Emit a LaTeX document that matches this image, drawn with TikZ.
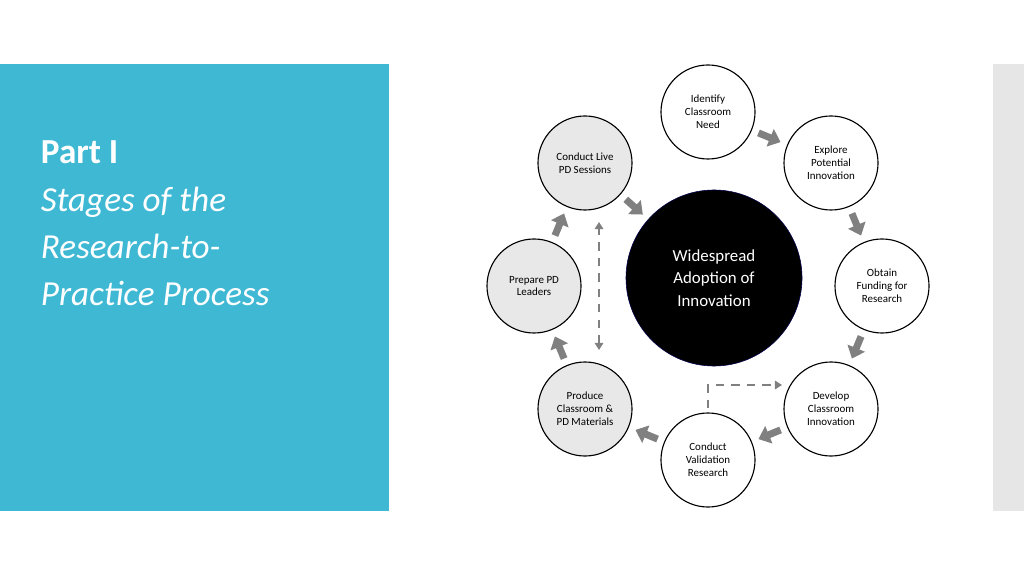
\documentclass[tikz,border=0pt]{standalone}
\usepackage{fontspec}
\setmainfont{Carlito}
\usetikzlibrary{arrows.meta}
\definecolor{panelblue}{HTML}{3FB8D4}
\definecolor{stripgray}{HTML}{E6E6E6}
\definecolor{stagegray}{HTML}{E8E8E8}
\definecolor{arrowgray}{HTML}{808080}
\tikzset{
  stage/.style={circle, draw=black, thick, fill=white, minimum size=2.35cm,
    inner sep=0pt, align=center, font=\fontsize{7.8}{9.2}\selectfont},
  pdstage/.style={stage, fill=stagegray},
  blockarrow/.style={draw=arrowgray, line width=5pt, shorten <=5pt, shorten >=5pt,
    -{Triangle[length=8pt, width=13pt]}},
  dasharrow/.style={draw=arrowgray, line width=1.6pt, dash pattern=on 6pt off 5pt,
    -{Triangle[length=5pt, width=6pt]}}
}
\begin{document}
\begin{tikzpicture}[x=0.025cm, y=-0.025cm]
  \useasboundingbox (0,0) rectangle (1024,576);

  % Background panels
  \fill[panelblue] (0,64) rectangle (389,511);
  \fill[stripgray] (993,64) rectangle (1024,511);

  % Title text
  \node[anchor=west, text=white, font=\fontsize{25}{30}\selectfont\bfseries] (title) at (36,152) {Part I};
  \node[anchor=north west, text=white, align=left, font=\fontsize{25}{33.5}\selectfont\itshape] (subtitle) at (36,182)
    {Stages of the\\Research-to-\\Practice Process};

  % Centre
  \node[circle, draw=black!70!blue, fill=black, minimum size=4.4cm, text=white, align=center,
    font=\fontsize{12}{16}\selectfont] (adoption) at (714,278) {Widespread\\Adoption of\\Innovation};

  % Stages
  \node[stage] (identify) at (708,112) {Identify\\Classroom\\Need};
  \node[stage] (explore) at (831,163) {Explore\\Potential\\Innovation};
  \node[stage] (obtain) at (882,286) {Obtain\\Funding for\\Research};
  \node[stage] (develop) at (831,409) {Develop\\Classroom\\Innovation};
  \node[stage] (validate) at (708,460) {Conduct\\Validation\\Research};
  \node[pdstage] (produce) at (585,409) {Produce\\Classroom \&\\PD Materials};
  \node[pdstage] (prepare) at (534,286) {Prepare PD\\Leaders};
  \node[pdstage] (live) at (585,163) {Conduct Live\\PD Sessions};

  % Cycle arrows
  \draw[blockarrow] (identify) -- (explore);
  \draw[blockarrow] (explore) -- (obtain);
  \draw[blockarrow] (obtain) -- (develop);
  \draw[blockarrow] (develop) -- (validate);
  \draw[blockarrow] (validate) -- (produce);
  \draw[blockarrow] (produce) -- (prepare);
  \draw[blockarrow] (prepare) -- (live);
  \draw[blockarrow] (live) -- (adoption);

  % Dashed links
  \coordinate (loopbottom) at (599,350);
  \coordinate (looptop) at (599,222);
  \draw[dasharrow, {Triangle[length=5pt, width=6pt]}-{Triangle[length=5pt, width=6pt]}] (loopbottom) -- (looptop);
  \coordinate (feedstart) at (708,408);
  \coordinate (feedend) at (782,385);
  \draw[dasharrow] (feedstart) |- (feedend);
\end{tikzpicture}
\end{document}
